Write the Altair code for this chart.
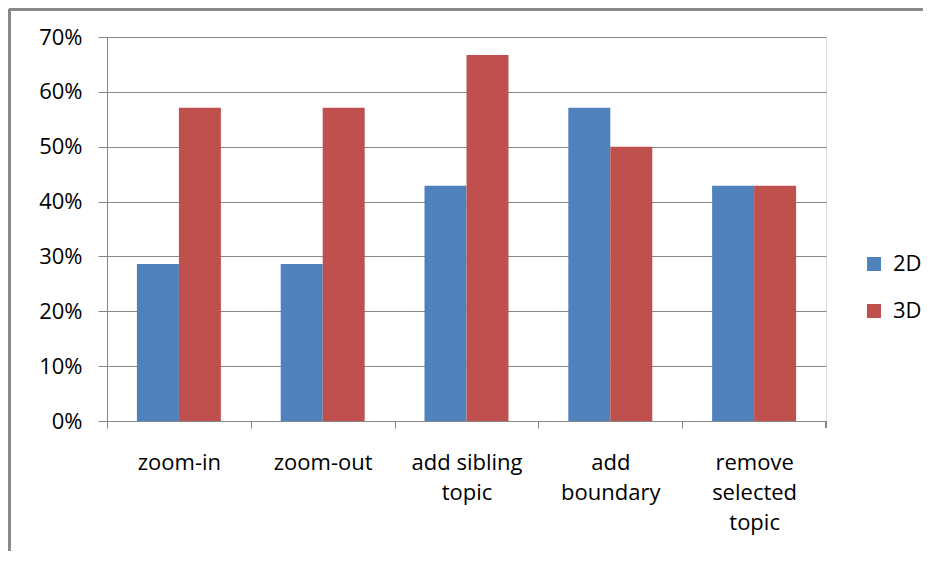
import altair as alt
import pandas as pd

categories = ["zoom-in", "zoom-out", "add sibling|topic", "add|boundary", "remove|selected|topic"]
series = ["2D", "3D"]
values_2d = [0.286, 0.286, 0.429, 0.571, 0.429]
values_3d = [0.571, 0.571, 0.667, 0.500, 0.429]
y_ticks = [0, 0.1, 0.2, 0.3, 0.4, 0.5, 0.6, 0.7]
colors = ["#4F81BD", "#C0504D"]

rows = []
for c, a, b in zip(categories, values_2d, values_3d):
    rows.append({"cat": c, "series": "2D", "value": a})
    rows.append({"cat": c, "series": "3D", "value": b})
df = pd.DataFrame(rows)

W, H = 719, 384
STEP = W / len(categories)
FONT = "Open Sans"
FS = 22
GRID = "#868686"

bars = alt.Chart(df).mark_bar().encode(
    x=alt.X("cat:N", sort=categories,
            scale=alt.Scale(paddingInner=0.416, paddingOuter=0.208),
            axis=alt.Axis(title=None, labelAngle=0,
                          tickOffset=-STEP / 2, labelOffset=STEP / 2,
                          labelExpr="split(datum.value, '|')",
                          labelLineHeight=30, labelPadding=24, labelLimit=300,
                          tickSize=7, tickColor=GRID, domainColor=GRID,
                          labelFont=FONT, labelFontSize=FS, labelColor="#000000",
                          grid=False)),
    xOffset=alt.XOffset("series:N", sort=series),
    y=alt.Y("value:Q",
            scale=alt.Scale(domain=[0, 0.7], nice=False),
            axis=alt.Axis(title=None, format=".0%", values=y_ticks,
                          tickSize=9, tickColor=GRID, domainColor=GRID,
                          gridColor=GRID, gridOpacity=1, labelPadding=16,
                          labelFont=FONT, labelFontSize=FS, labelColor="#000000")),
    color=alt.Color("series:N", sort=series,
                    scale=alt.Scale(domain=series, range=colors),
                    legend=alt.Legend(title=None, orient="none", legendX=756, legendY=216,
                                      symbolType="square", symbolSize=196,
                                      symbolStrokeWidth=0, labelOffset=8,
                                      rowPadding=25, padding=0,
                                      labelFont=FONT, labelFontSize=FS,
                                      labelColor="#000000")),
)

end_tick = alt.Chart(df).mark_rule(color=GRID, strokeWidth=1).encode(
    x=alt.value(W), y=alt.value(H), y2=alt.value(H + 7))
frame_top = alt.Chart(df).mark_rule(color="#898989", strokeWidth=3).encode(
    x=alt.value(-98), x2=alt.value(W + 97), y=alt.value(-28))
frame_left = alt.Chart(df).mark_rule(color="#898989", strokeWidth=3).encode(
    x=alt.value(-98), y=alt.value(-28), y2=alt.value(H + 130))

chart = alt.layer(bars, end_tick, frame_top, frame_left).properties(
    width=W, height=H,
    autosize=alt.AutoSizeParams(type="none"),
    padding={"left": 99, "top": 29, "right": 97, "bottom": 130},
).configure_view(stroke=None).configure(background="white")

chart.save("out.html", embed_options={"renderer": "svg", "actions": False})
